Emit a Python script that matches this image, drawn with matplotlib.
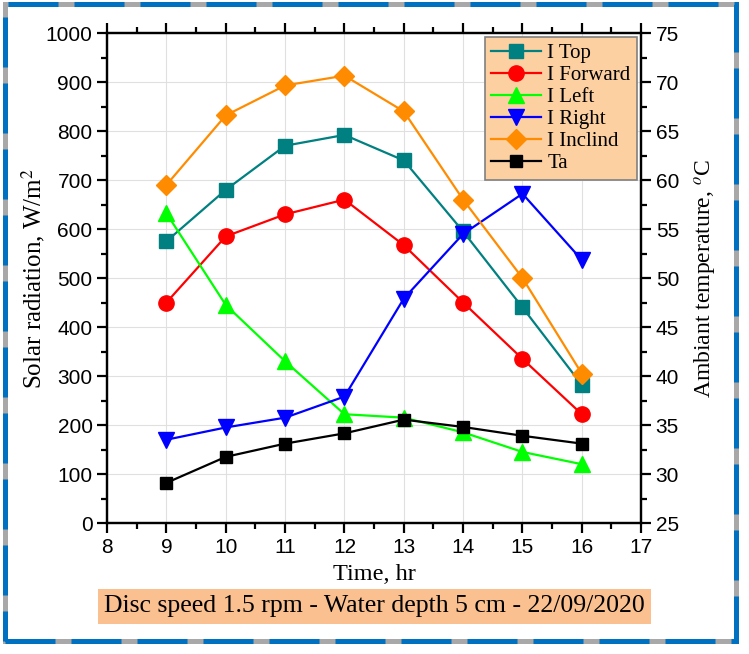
import matplotlib.pyplot as plt
from matplotlib.patches import Rectangle
from matplotlib.ticker import MultipleLocator

hours = [9, 10, 11, 12, 13, 14, 15, 16]
i_top = [575, 680, 770, 792, 740, 595, 440, 282]
i_forward = [450, 585, 630, 660, 567, 450, 335, 222]
i_left = [632, 445, 330, 222, 215, 185, 145, 120]
i_right = [170, 195, 215, 258, 458, 590, 672, 537]
i_inclind = [690, 832, 893, 913, 840, 660, 500, 305]
ta = [29.1, 31.75, 33.1, 34.15, 35.55, 34.8, 33.9, 33.1]

serif = 'Liberation Serif'
sans = 'Liberation Sans'
plt.rcParams['mathtext.fontset'] = 'stix'

fig = plt.figure(figsize=(7.49, 6.54), dpi=100)
ax = fig.add_axes([0.143, 0.2003, 0.713, 0.7492])
ax2 = ax.twinx()

lw = 1.6
ms = 10
h1, = ax.plot(hours, i_top, '-s', color='#008080', lw=lw, ms=ms, label='I Top')
h2, = ax.plot(hours, i_forward, '-o', color='#ff0000', lw=lw, ms=ms + 1, label='I Forward')
h3, = ax.plot(hours, i_left, '-^', color='#00ff00', lw=lw, ms=ms + 1, label='I Left')
h4, = ax.plot(hours, i_right, '-v', color='#0000ff', lw=lw, ms=ms + 1, label='I Right')
h5, = ax.plot(hours, i_inclind, '-D', color='#ff8c00', lw=lw, ms=ms, label='I Inclind')
h6, = ax2.plot(hours, ta, '-s', color='black', lw=lw, ms=ms - 1, label='Ta')

ax.set_xlim(8, 17)
ax.set_ylim(0, 1000)
ax2.set_ylim(25, 75)
ax.xaxis.set_major_locator(MultipleLocator(1))
ax.xaxis.set_minor_locator(MultipleLocator(0.5))
ax.yaxis.set_major_locator(MultipleLocator(100))
ax.yaxis.set_minor_locator(MultipleLocator(50))
ax2.yaxis.set_major_locator(MultipleLocator(5))
ax2.yaxis.set_minor_locator(MultipleLocator(2.5))

ax.grid(True, which='major', color='#e0e0e0', lw=0.8)
ax.set_axisbelow(True)

for a in (ax, ax2):
    for s in a.spines.values():
        s.set_linewidth(1.6)
    a.tick_params(which='major', direction='out', length=7, width=1.6, labelsize=15)
    a.tick_params(which='minor', direction='out', length=4, width=1.6)
    for lab in a.get_xticklabels() + a.get_yticklabels():
        lab.set_fontfamily(sans)
ax.tick_params(which='both', top=True)

ax.set_xlabel('Time, hr', fontsize=17.5, family=serif, labelpad=5)
ax.set_ylabel('Solar radiation, W/m$^2$', fontsize=18, family=serif, labelpad=-1)
ax2.set_ylabel('Ambiant temperature, $^o$C', fontsize=17, family=serif, labelpad=10)

leg = ax2.legend(handles=[h1, h2, h3, h4, h5, h6], loc='upper right',
                 prop={'family': serif, 'size': 15}, fancybox=False,
                 framealpha=1, borderaxespad=0.2, handlelength=2.4,
                 labelspacing=0.12, handletextpad=0.3, borderpad=0.3)
leg.get_frame().set_facecolor('#fdd0a2')
leg.get_frame().set_edgecolor('#808080')
leg.get_frame().set_linewidth(1.2)

fig.text(0.5, 0.073, 'Disc speed 1.5 rpm - Water depth 5 cm - 22/09/2020',
         ha='center', va='center', fontsize=18.5, family=serif,
         bbox=dict(boxstyle='square,pad=0.25', facecolor='#fac090', edgecolor='none'))

# dashed frame around the figure with gray shadow gaps
frame = (0.0073, 0.0206)
fw, fh = 0.975, 0.974
fig.patches.append(Rectangle(frame, fw, fh, transform=fig.transFigure,
                             fill=False, edgecolor='#a8a8a8', lw=3.6, zorder=0))
fig.patches.append(Rectangle(frame, fw, fh, transform=fig.transFigure,
                             fill=False, edgecolor='#0070c0', lw=3.6,
                             linestyle=(0, (10, 3.2)), zorder=1))

fig.savefig('out.png', dpi=100)
